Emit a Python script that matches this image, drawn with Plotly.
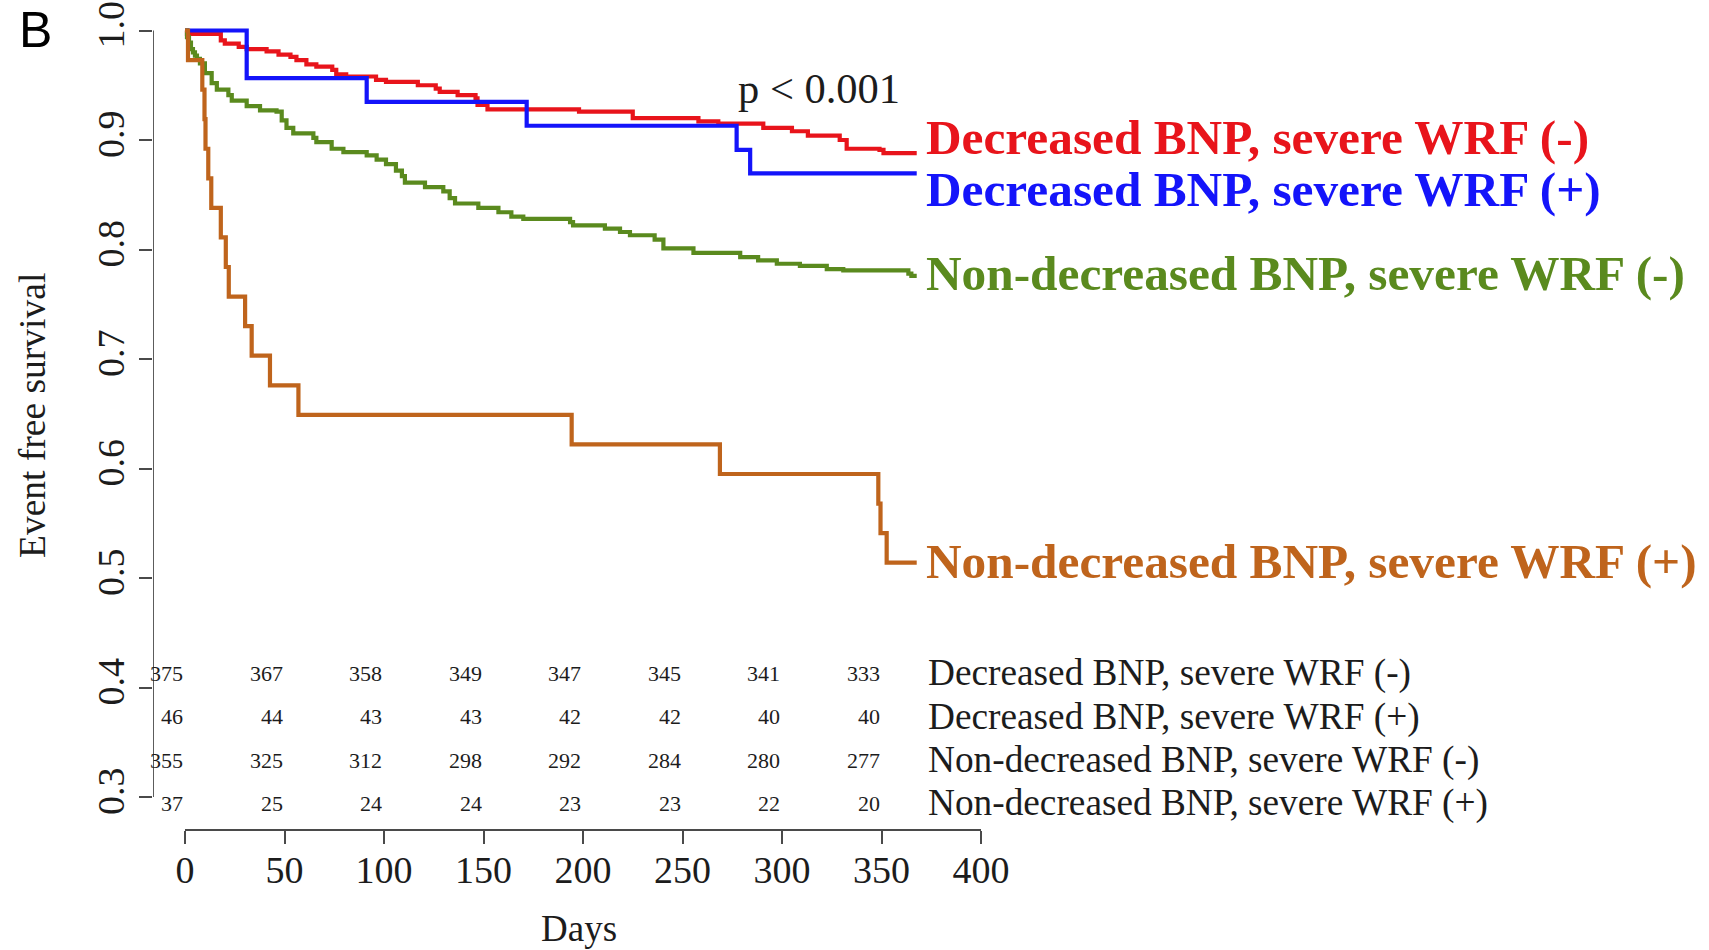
import plotly.graph_objects as go

# ---- Kaplan-Meier step data: day of each step and survival after it ----
dec_neg_days = [0, 1, 18, 20, 27, 31, 41, 47, 53, 56, 61, 66, 74, 76, 81, 96, 101, 117,
                126, 128, 137, 146, 147, 152, 198, 225, 258, 268, 290.6, 305, 313, 329,
                332.5, 349, 351]
dec_neg_surv = [1.0, 0.997, 0.991, 0.988, 0.985, 0.983, 0.981, 0.978, 0.976, 0.973, 0.969,
                0.967, 0.964, 0.960, 0.958, 0.955, 0.953, 0.950, 0.947, 0.944, 0.941, 0.938,
                0.932, 0.928, 0.926, 0.920, 0.917, 0.915, 0.911, 0.908, 0.904, 0.900, 0.892,
                0.891, 0.888]

dec_pos_days = [0, 31, 91.3, 171.7, 277.2, 284]
dec_pos_surv = [1.0, 0.9565, 0.9348, 0.913, 0.891, 0.8696]

non_neg_days = [0, 1, 2, 3, 4, 5, 6, 7.5, 10, 13.4, 16, 21.8, 23.5, 31, 37.7, 46, 48.6, 51,
                54.4, 64.5, 66, 73.7, 79.6, 91.3, 96.3, 101, 106, 109, 110.5, 120.6, 129.8,
                133, 135.7, 147.4, 157.5, 164, 170, 193.5, 195, 211, 218.6, 223.6, 236,
                240.4, 255.5, 279, 288, 297.4, 309, 322.5, 330.8, 363.5, 365]
non_neg_surv = [1.0, 0.994, 0.989, 0.983, 0.980, 0.977, 0.974, 0.970, 0.961, 0.952, 0.946,
                0.941, 0.936, 0.931, 0.927, 0.926, 0.918, 0.911, 0.906, 0.902, 0.898, 0.892,
                0.889, 0.886, 0.882, 0.878, 0.872, 0.867, 0.861, 0.857, 0.853, 0.847, 0.842,
                0.838, 0.834, 0.830, 0.828, 0.825, 0.822, 0.819, 0.816, 0.813, 0.809, 0.801,
                0.797, 0.793, 0.790, 0.787, 0.785, 0.782, 0.781, 0.778, 0.776]

non_pos_days = [0, 1.5, 8.7, 9.8, 10.3, 11.7, 13.2, 18, 20.5, 22, 30.2, 33.5, 42.7, 57,
                194.3, 268.8, 348.4, 349.5, 352.6]
non_pos_surv = [1.0, 0.973, 0.946, 0.919, 0.892, 0.865, 0.838, 0.811, 0.784, 0.757, 0.730,
                0.703, 0.676, 0.649, 0.622, 0.595, 0.568, 0.541, 0.514]

follow_up_end = 367.7

group_names = ["Decreased BNP, severe WRF (-)", "Decreased BNP, severe WRF (+)",
               "Non-decreased BNP, severe WRF (-)", "Non-decreased BNP, severe WRF (+)"]
group_colors = ["#E8141B", "#1414FA", "#5A8A1E", "#BF641C"]

# ---- numbers at risk ----
risk_days = [0, 50, 100, 150, 200, 250, 300, 350]
risk_dec_neg = [375, 367, 358, 349, 347, 345, 341, 333]
risk_dec_pos = [46, 44, 43, 43, 42, 42, 40, 40]
risk_non_neg = [355, 325, 312, 298, 292, 284, 280, 277]
risk_non_pos = [37, 25, 24, 24, 23, 23, 22, 20]

x_ticks = [0, 50, 100, 150, 200, 250, 300, 350, 400]
y_ticks = [0.3, 0.4, 0.5, 0.6, 0.7, 0.8, 0.9, 1.0]
p_text = "p < 0.001"

# ---- page geometry (pixels) ----
W, H = 1709, 950
L, R, T, B = 153, 0, 25, 120
PW, PH = W - L - R, H - T - B
X0_PX, PX_PER_DAY = 185.0, 1.99
Y1_PX, PX_PER_UNIT = 30.5, 1095.0

x_range = [(L - X0_PX) / PX_PER_DAY, (W - R - X0_PX) / PX_PER_DAY]
y_range = [1 - (H - B - Y1_PX) / PX_PER_UNIT, 1 + (Y1_PX - T) / PX_PER_UNIT]


def px_x(px):
    return (px - L) / PW


def px_y(py):
    return (H - B - py) / PH


SERIF = "Liberation Serif"
INK = "#1c1c1c"
AXIS = "#4a4a4a"

fig = go.Figure()

series = [
    (dec_neg_days, dec_neg_surv),
    (dec_pos_days, dec_pos_surv),
    (non_neg_days, non_neg_surv),
    (non_pos_days, non_pos_surv),
]
for (days, surv), name, color in zip(series, group_names, group_colors):
    fig.add_trace(go.Scatter(
        x=days + [follow_up_end], y=surv + [surv[-1]],
        mode="lines", line=dict(color=color, width=4.2, shape="hv"),
        name=name, showlegend=False, hoverinfo="skip",
    ))

annotations = []

# group labels at the right of the curves
label_centers = [137.5, 189.5, 273.0, 561.5]
for name, color, cy in zip(group_names, group_colors, label_centers):
    annotations.append(dict(
        text=name, xref="paper", yref="paper", x=px_x(924), y=px_y(cy),
        xanchor="left", yanchor="middle", showarrow=False,
        font=dict(family=SERIF, size=49.3, color=color, weight="bold"),
    ))

# log-rank p value
annotations.append(dict(
    text=p_text, xref="paper", yref="paper", x=px_x(819), y=px_y(88),
    xanchor="center", yanchor="middle", showarrow=False,
    font=dict(family=SERIF, size=42.5, color=INK),
))

# numbers-at-risk table
risk_rows = [risk_dec_neg, risk_dec_pos, risk_non_neg, risk_non_pos]
row_centers = [673, 716.5, 760, 803]
for counts, name, cy in zip(risk_rows, group_names, row_centers):
    for day, n in zip(risk_days, counts):
        annotations.append(dict(
            text=str(n), xref="x", yref="paper", x=day, y=px_y(cy),
            xanchor="right", yanchor="middle", showarrow=False,
            font=dict(family=SERIF, size=22, color=INK),
        ))
    annotations.append(dict(
        text=name, xref="paper", yref="paper", x=px_x(926), y=px_y(cy),
        xanchor="left", yanchor="middle", showarrow=False,
        font=dict(family=SERIF, size=37.3, color=INK),
    ))

# axis titles and panel letter
annotations.append(dict(
    text="Event free survival", xref="paper", yref="paper", x=px_x(32), y=px_y(415),
    xanchor="center", yanchor="middle", textangle=-90, showarrow=False,
    font=dict(family=SERIF, size=37.5, color=INK),
))
annotations.append(dict(
    text="Days", xref="paper", yref="paper", x=px_x(579), y=px_y(928),
    xanchor="center", yanchor="middle", showarrow=False,
    font=dict(family=SERIF, size=37, color=INK),
))
annotations.append(dict(
    text="B", xref="paper", yref="paper", x=px_x(35), y=px_y(30),
    xanchor="center", yanchor="middle", showarrow=False,
    font=dict(family="Liberation Sans", size=50, color="#000000"),
))

# axis lines spanning only the tick range
shapes = [
    dict(type="line", xref="x", yref="y", x0=x_range[0], x1=x_range[0],
         y0=y_ticks[0], y1=y_ticks[-1], layer="above",
         line=dict(color=AXIS, width=1.8)),
    dict(type="line", xref="x", yref="paper", x0=x_ticks[0], x1=x_ticks[-1], y0=0, y1=0,
         layer="above", line=dict(color=AXIS, width=1.8)),
]

fig.update_layout(
    width=W, height=H, autosize=False,
    margin=dict(l=L, r=R, t=T, b=B, pad=0),
    paper_bgcolor="white", plot_bgcolor="white",
    showlegend=False,
    annotations=annotations, shapes=shapes,
    xaxis=dict(
        range=x_range, showgrid=False, zeroline=False, showline=False,
        tickmode="array", tickvals=x_ticks, ticktext=[str(v) for v in x_ticks],
        ticks="outside", ticklen=13, tickwidth=1.6, tickcolor=AXIS,
        ticklabelstandoff=-7,
        tickfont=dict(family=SERIF, size=38, color=INK),
        fixedrange=True,
    ),
    yaxis=dict(
        range=y_range, showgrid=False, zeroline=False, showline=False,
        tickmode="array", tickvals=y_ticks, ticktext=[f"{v:.1f}" for v in y_ticks],
        ticks="outside", ticklen=13, tickwidth=1.6, tickcolor=AXIS,
        tickangle=-90,
        tickfont=dict(family=SERIF, size=38, color=INK),
        fixedrange=True,
    ),
)

fig.write_html("out.html")
